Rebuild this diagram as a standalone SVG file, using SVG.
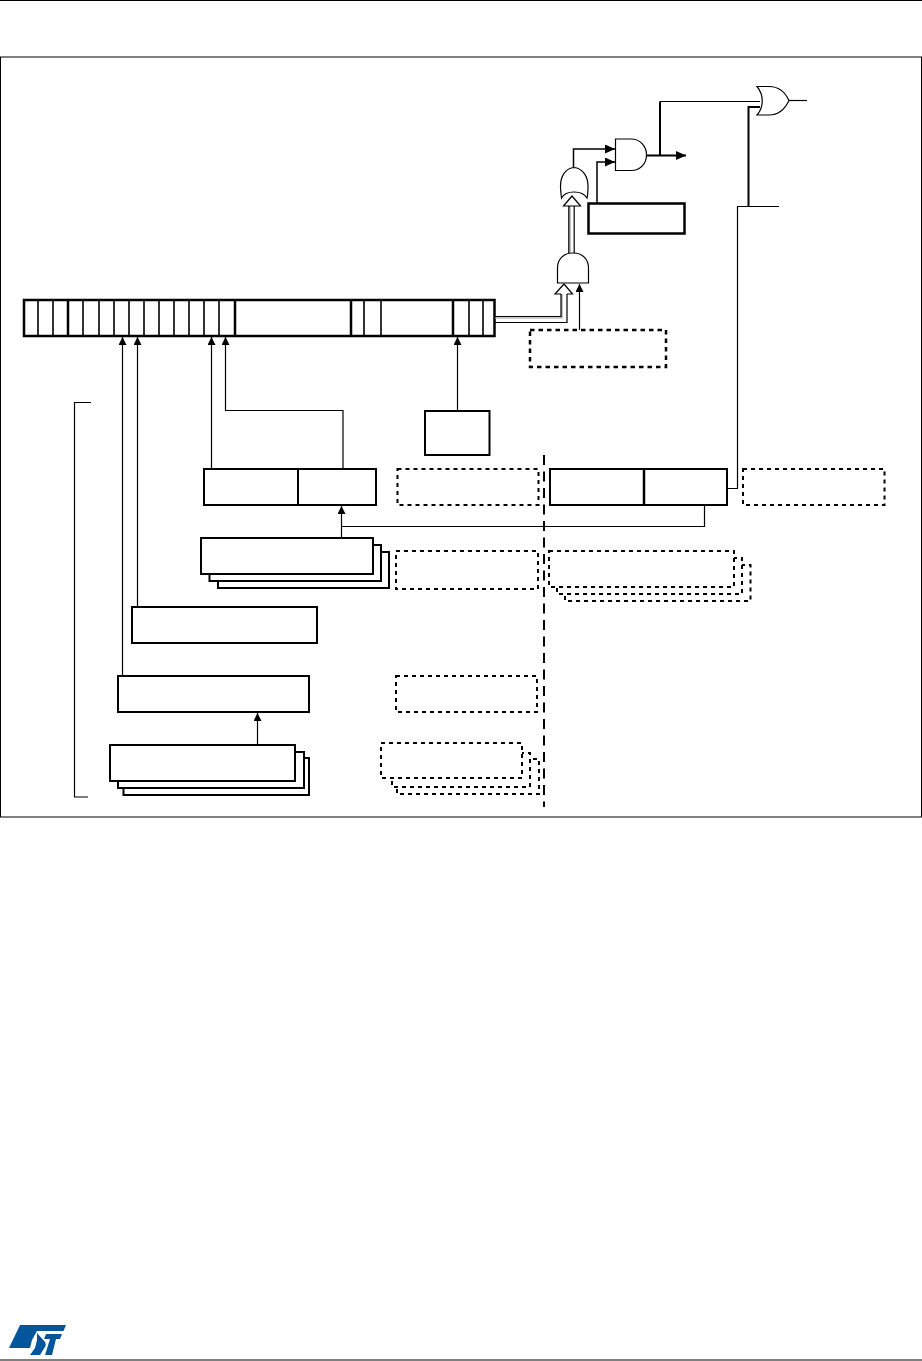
<svg xmlns="http://www.w3.org/2000/svg" width="922" height="1361" viewBox="0 0 922 1361">
<style>
.b{fill:#fff;stroke:#000;stroke-width:2}
.h{fill:#fff;stroke:#000;stroke-width:2.5}
.d{fill:#fff;stroke:#000;stroke-width:2;stroke-dasharray:4 4}
.dh{fill:#fff;stroke:#000;stroke-width:2.5;stroke-dasharray:4.5 4}
.w{fill:none;stroke:#000;stroke-width:1.2}
.t{fill:none;stroke:#000;stroke-width:2}
.g{fill:#fff;stroke:#000;stroke-width:1.2}
.v{stroke:#000;stroke-width:1.2}
.vh{stroke:#000;stroke-width:2}
</style>
<defs>
<marker id="a" markerUnits="userSpaceOnUse" markerWidth="8" markerHeight="10" refX="8" refY="4" orient="auto"><path d="M0,0L8,4L0,8z" fill="#000"/></marker>
<marker id="m" markerUnits="userSpaceOnUse" markerWidth="11" markerHeight="10" refX="10" refY="4.5" orient="auto"><path d="M0,0L10,4.5L0,9z" fill="#000"/></marker>
</defs>
<g id="page">
<line x1="0" y1="0.5" x2="922" y2="0.5" stroke="#000"/>
<line x1="0" y1="1360" x2="922" y2="1360" stroke="#000"/>
<rect x="0.5" y="57" width="921" height="760" fill="none" stroke="#000" stroke-width="1"/>
</g>
<g id="register">
<rect class="h" x="24" y="300" width="470.500" height="36"/>
<path class="v" style="stroke-width:1.6" d="M38,300V336M53,300V336M83,300V336M99,300V336M114,300V336M129,300V336M144,300V336M159,300V336M174,300V336M189,300V336M204,300V336M219,300V336M364,300V336M381,300V336M469,300V336M483,300V336"/>
<path class="vh" style="stroke-width:2.500" d="M68,300V336M235,300V336M351,300V336M453,300V336"/>
</g>
<g id="connectors">
<path class="w" marker-end="url(#a)" d="M122.500,676V337"/>
<path class="w" marker-end="url(#a)" d="M137.500,607V337"/>
<path class="w" marker-end="url(#a)" d="M211.500,469V337"/>
<path class="w" marker-end="url(#a)" d="M343,469V410.500H225.500V337"/>
<path class="w" marker-end="url(#a)" d="M457.500,411V337"/>
<path class="w" marker-end="url(#a)" d="M341.500,538V506"/>
<path class="w" d="M342,526.500H704.500V505"/>
<path class="w" marker-end="url(#a)" d="M257.500,745V713"/>
<path class="w" d="M91,402.500H74.500V797H88"/>
<path class="w" d="M727,488.500H737.500V206.500H779"/>
<path class="t" d="M748.500,206V107H760"/>
<path class="t" d="M660,155V101.500"/>
<path class="w" d="M660,101.500H760"/>
<path class="t" marker-end="url(#m)" d="M646,155.500H686"/>
<path class="t" style="stroke-width:1.500" marker-end="url(#m)" d="M573.500,168V149H615"/>
<path class="t" style="stroke-width:1.500" marker-end="url(#m)" d="M597,203V162H615"/>
<path class="w" marker-end="url(#a)" d="M579.500,330V284"/>
<path class="w" d="M789,100.500H807"/>
<path d="M544,455V807" fill="none" stroke="#000" stroke-width="2" stroke-dasharray="10 6.500"/>
</g>
<g id="gate-or-top"><path class="g" d="M757,86.500H769C778,86.500 785,92 789,100.500C785,109 778,115 769,115H757C764,107 764,95 757,86.500z"/></g>
<g id="gate-and-top"><path class="g" d="M615.500,139H631C640,139 646.500,146 646.500,155C646.500,164 640,170.500 631,170.500H615.500z"/></g>
<g id="gate-or-mid"><path class="g" d="M574,167.500C566,168 560.500,176 560.500,186C560.500,190 561,194 561.500,198C566,190 582,190 587,198C588,194 588,190 588,186C588,176 582,168 574,167.500z"/></g>
<g id="gate-and-low"><path class="g" d="M557.500,283V268C557.500,259 564,253 572,253H574C582,253 588.500,259 588.500,268V283z"/></g>
<g id="bus">
<path d="M495,318H562V294M570,253V206" fill="none" stroke="#999" stroke-width="1.200"/>
<path class="w" d="M495,316.500H561V294M495,322.500H567V294M568.800,253V206M574.200,253V206"/>
<path d="M564,284L555,294H561M567,294H572.500L564,284" fill="#fff" stroke="#000" stroke-width="1.200"/>
<path d="M572,196L563.500,206H580.500z" class="g"/>
</g>
<g id="box-top"><rect class="h" x="588.500" y="203.500" width="96" height="30"/></g>
<g id="box-dash-top"><rect class="dh" x="530" y="330" width="136" height="37"/></g>
<g id="box-small"><rect class="b" x="425" y="411" width="64.500" height="44"/></g>
<g id="box-split-left"><rect class="b" x="204" y="469" width="172" height="36"/><path class="vh" d="M298,469V505"/></g>
<g id="box-split-right"><rect class="b" x="550" y="469" width="177" height="36"/><path class="vh" style="stroke-width:2.500" d="M644,469V505"/></g>
<g id="box-dash-1"><rect class="d" x="397.500" y="469" width="141" height="36"/></g>
<g id="box-dash-2"><rect class="d" x="743" y="469" width="141.500" height="36"/></g>
<g id="stack-1">
<rect class="b" x="218" y="552" width="171" height="36"/>
<rect class="b" x="209.500" y="545" width="171.500" height="36"/>
<rect class="b" x="201" y="538" width="172" height="36"/>
</g>
<g id="box-dash-3"><rect class="d" x="396" y="551" width="142" height="38"/></g>
<g id="stack-dash-right">
<rect class="d" x="565" y="565" width="185.500" height="36"/>
<rect class="d" x="557" y="558" width="185" height="36"/>
<rect class="d" x="549" y="551" width="185" height="36"/>
</g>
<g id="box-a"><rect class="b" x="132" y="607" width="185" height="36"/></g>
<g id="box-b"><rect class="b" x="118" y="676" width="191" height="36"/></g>
<g id="box-dash-4"><rect class="d" x="396" y="676" width="141" height="36"/></g>
<g id="stack-2">
<rect class="b" x="123.500" y="758" width="185.500" height="37"/>
<rect class="b" x="118" y="752" width="186" height="36"/>
<rect class="b" x="110" y="745" width="185" height="36"/>
</g>
<g id="stack-dash-left">
<rect class="d" x="397" y="759" width="142" height="35"/>
<rect class="d" x="392" y="753" width="138" height="34"/>
<rect class="d" x="381" y="743" width="141" height="35"/>
</g>
<g id="logo" fill="#03569b">
<path d="M20,1325H66L63.500,1331H37L32,1340L30,1348H9z"/>
<path d="M37,1333L45,1342C46,1344 46,1346 45,1347L40,1355H30L35,1348L37,1340z"/>
<path d="M46,1334H62L60,1339H56L52,1355H45L50,1339H44z"/>
</g>
</svg>
